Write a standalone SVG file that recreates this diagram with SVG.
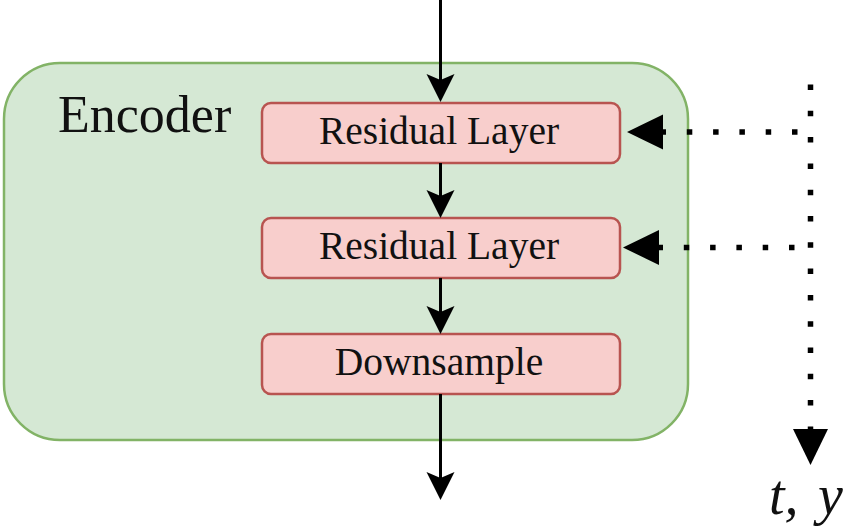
<svg xmlns="http://www.w3.org/2000/svg" width="848" height="530" viewBox="0 0 848 530">
  <defs>
    <style>
      .frame { fill: #d5e8d4; stroke: #82b366; stroke-width: 2.5; }
      .block { fill: #f8cecc; stroke: #b85450; stroke-width: 2.5; }
      .label { font-family: "Liberation Serif", "Times New Roman", serif; font-size: 39.5px; fill: #111; text-anchor: middle; }
      .title { font-family: "Liberation Serif", "Times New Roman", serif; font-size: 52px; fill: #111; }
      .math { font-family: "Liberation Serif", "Times New Roman", serif; font-style: italic; font-size: 56px; fill: #111; }
      .flow { fill: none; stroke: #000; stroke-width: 3; marker-end: url(#head); }
      .cond { fill: none; stroke: #000; stroke-width: 5.5; stroke-dasharray: 5.5 20.8; marker-end: url(#bighead); }
    </style>
    <marker id="head" markerUnits="userSpaceOnUse" markerWidth="30" markerHeight="30" refX="25" refY="14" orient="auto" overflow="visible">
      <path d="M0,0 L28,14 L0,28 L6,14 Z" fill="#000"/>
    </marker>
    <marker id="bighead" markerUnits="userSpaceOnUse" markerWidth="38" markerHeight="36" refX="36" refY="17.5" orient="auto" overflow="visible">
      <path d="M0,0 L36,17.5 L0,35 Z" fill="#000"/>
    </marker>
  </defs>

  <!-- encoder container -->
  <g id="encoder">
    <rect class="frame" x="4" y="63" width="684" height="377" rx="56" ry="56"/>
    <text class="title" x="58" y="132">Encoder</text>
  </g>

  <g id="residual1">
    <rect class="block" x="262" y="103" width="358" height="60" rx="9" ry="9"/>
    <text class="label" x="439" y="144">Residual Layer</text>
  </g>

  <g id="residual2">
    <rect class="block" x="262" y="218" width="358" height="60" rx="9" ry="9"/>
    <text class="label" x="439" y="259">Residual Layer</text>
  </g>

  <g id="downsample">
    <rect class="block" x="262" y="334" width="358" height="60" rx="9" ry="9"/>
    <text class="label" x="439" y="375">Downsample</text>
  </g>

  <g id="condition">
    <text class="math"><tspan x="769" y="514">t, </tspan><tspan x="818" y="514">y</tspan></text>
  </g>

  <!-- connectors -->
  <g id="connectors">
    <path class="flow" d="M440.5,0 L440.5,99"/>
    <path class="flow" d="M440.5,163 L440.5,215"/>
    <path class="flow" d="M440.5,278 L440.5,331"/>
    <path class="flow" d="M440.5,394 L440.5,497"/>
    <path class="cond" d="M797.5,132 L627,132"/>
    <path class="cond" d="M794.5,247.5 L623,247.5"/>
    <path class="cond" d="M810.5,84.5 L810.5,465"/>
  </g>
</svg>
